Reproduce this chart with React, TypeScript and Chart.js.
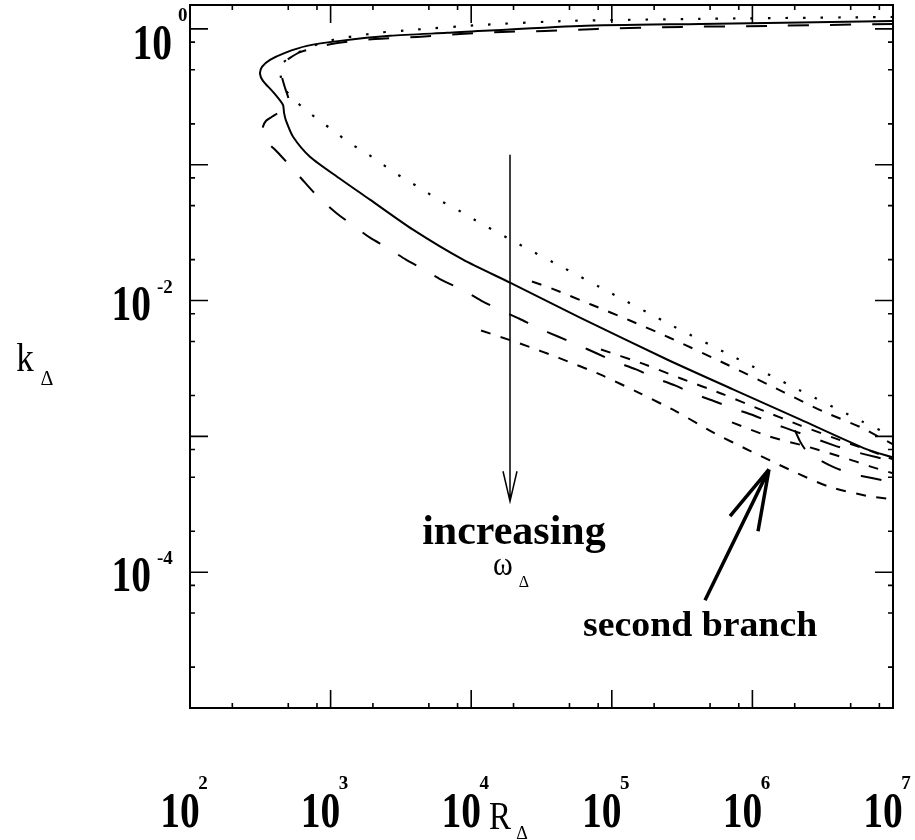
import React, { useEffect, useRef } from "react";
import { Chart, registerables } from "chart.js";

Chart.register(...registerables);

// ---- axis ticks (exponents of 10) ----
const xTickExponents = [2, 3, 4, 5, 6, 7];
const yTickExponents = [0, -1, -2, -3, -4];
const yLabelExponents = [0, -2, -4];
const minorMantissas = [2, 5, 8];

// ---- curves, stored as log10 values ----
// solid curve (upper + lower branch)
const solidLogR = [7.0, 6.339, 5.627, 4.774, 3.828, 3.422, 3.067, 2.832, 2.676, 2.569, 2.512, 2.498, 2.519, 2.59, 2.661, 2.669, 2.683, 2.733, 2.853, 3.067, 3.28, 3.586, 3.942, 4.276, 4.774, 5.393, 5.862, 6.339, 6.815, 7.0];
const solidLogK = [0.059, 0.048, 0.037, 0.022, -0.029, -0.051, -0.088, -0.125, -0.176, -0.228, -0.279, -0.331, -0.382, -0.463, -0.559, -0.618, -0.676, -0.794, -0.941, -1.103, -1.257, -1.478, -1.699, -1.868, -2.125, -2.434, -2.654, -2.875, -3.096, -3.154];

// dotted curve
const dottedLogR = [7.0, 5.627, 4.703, 4.063, 3.586, 3.33, 3.195, 3.081, 2.96, 2.839, 2.725, 2.661, 2.64, 2.647, 2.654, 2.733, 2.832, 2.932, 3.031, 3.131, 3.238, 3.344, 3.444, 3.55, 3.657, 3.764, 3.878, 3.984, 4.319, 4.653, 4.987, 5.428, 5.876, 6.324, 6.78, 7.0];
const dottedLogK = [0.088, 0.074, 0.059, 0.029, -0.007, -0.029, -0.051, -0.066, -0.096, -0.14, -0.199, -0.25, -0.294, -0.36, -0.412, -0.515, -0.603, -0.684, -0.757, -0.838, -0.904, -0.978, -1.051, -1.118, -1.184, -1.257, -1.316, -1.382, -1.574, -1.757, -1.941, -2.184, -2.419, -2.654, -2.89, -3.0];

// long-dashed curve
const longDashLogR = [7.0, 6.104, 5.499, 4.895, 4.525, 4.219, 3.92, 3.614, 3.316, 3.017, 2.789, 2.711, 2.661, 2.647, 2.669, 2.704, 2.647, 2.583, 2.541, 2.519, 2.519, 2.555, 2.619, 2.718, 2.818, 2.917, 3.038, 3.152, 3.28, 3.401, 3.536, 3.664, 3.799, 3.935, 4.07, 4.198, 4.34, 4.468, 4.617, 4.752, 4.895, 5.023, 5.172, 5.3, 5.449, 5.578, 5.734, 5.862, 6.011, 6.146, 6.303, 6.58, 6.716, 6.886, 7.0];
const longDashLogK = [0.037, 0.022, 0.015, 0.0, -0.015, -0.022, -0.037, -0.059, -0.074, -0.11, -0.169, -0.213, -0.257, -0.316, -0.412, -0.544, -0.603, -0.647, -0.676, -0.721, -0.765, -0.838, -0.904, -1.015, -1.132, -1.243, -1.353, -1.441, -1.537, -1.61, -1.699, -1.772, -1.853, -1.919, -2.0, -2.066, -2.132, -2.199, -2.265, -2.324, -2.39, -2.449, -2.507, -2.566, -2.625, -2.684, -2.743, -2.794, -2.846, -2.904, -2.963, -3.066, -3.11, -3.154, -3.184];

// long-dashed second piece
const longDash2LogR = [6.303, 6.339, 6.381, 6.445, 6.566, 6.694, 6.858, 7.0];
const longDash2LogK = [-2.956, -3.037, -3.103, -3.154, -3.221, -3.272, -3.309, -3.338];

// medium-dashed "second branch" curves
const branch1LogR = [4.432, 4.575, 4.852, 5.129, 5.407, 5.819, 6.225, 6.502, 6.772, 7.0];
const branch1LogK = [-1.86, -1.912, -2.029, -2.147, -2.272, -2.471, -2.676, -2.816, -2.934, -3.059];

const branch2LogR = [4.07, 4.347, 4.632, 4.916, 5.186, 5.457, 5.72, 5.99, 6.26, 6.538, 6.829, 7.0];
const branch2LogK = [-2.221, -2.316, -2.426, -2.544, -2.676, -2.816, -2.971, -3.11, -3.243, -3.368, -3.441, -3.463];

const branch3LogR = [4.923, 5.215, 5.492, 5.777, 6.054, 6.339, 6.609, 6.886, 7.0];
const branch3LogK = [-2.36, -2.463, -2.574, -2.684, -2.801, -2.919, -3.022, -3.125, -3.169];

const branch4LogR = [5.855, 6.118, 6.41, 6.687, 6.836, 7.0];
const branch4LogK = [-2.897, -3.0, -3.081, -3.169, -3.221, -3.272];

// annotation anchors (log10 R, log10 k)
const omegaArrow = { logR: 4.276, fromLogK: -0.926, toLogK: -3.478 };
const branchArrow = { tipR: 6.118, tipK: -3.243, tailR: 5.663, tailK: -4.206, barb1R: 5.841, barb1K: -3.588, barb2R: 6.04, barb2K: -3.699 };
const increasingText = { logR: 4.304, logK: -3.794 };
const omegaText = { logR: 4.226, logK: -4.022 };
const branchText = { logR: 5.628, logK: -4.47 };

function toPoints(lr: number[], lk: number[]) {
  return lr.map((v, i) => ({ x: Math.pow(10, v), y: Math.pow(10, lk[i]) }));
}

const SERIF = '"Liberation Serif", "Times New Roman", serif';

function drawText(ctx: CanvasRenderingContext2D, text: string, x: number, y: number, font: string, align: CanvasTextAlign, sy = 1, sx = 1) {
  ctx.save();
  ctx.translate(x, y);
  ctx.scale(sx, sy);
  ctx.font = font;
  ctx.textAlign = align;
  ctx.textBaseline = "alphabetic";
  ctx.fillText(text, 0, 0);
  ctx.restore();
}

const decorPlugin = {
  id: "decor",
  afterDraw(chart: any) {
    const ctx: CanvasRenderingContext2D = chart.ctx;
    const { left, right, top, bottom } = chart.chartArea;
    const xs = chart.scales.x;
    const ys = chart.scales.y;
    const X = (lr: number) => xs.getPixelForValue(Math.pow(10, lr));
    const Y = (lk: number) => ys.getPixelForValue(Math.pow(10, lk));
    ctx.save();
    ctx.strokeStyle = "#000";
    ctx.fillStyle = "#000";
    ctx.lineCap = "butt";

    // frame
    ctx.lineWidth = 2;
    ctx.strokeRect(left, top, right - left, bottom - top);

    // ticks
    ctx.lineWidth = 1.6;
    ctx.beginPath();
    for (const e of xTickExponents) {
      const px = xs.getPixelForValue(Math.pow(10, e));
      ctx.moveTo(px, bottom); ctx.lineTo(px, bottom - 18);
      ctx.moveTo(px, top); ctx.lineTo(px, top + 18);
      for (const m of minorMantissas) {
        const v = m * Math.pow(10, e);
        if (v >= xs.max) continue;
        const mx = xs.getPixelForValue(v);
        ctx.moveTo(mx, bottom); ctx.lineTo(mx, bottom - 5);
        ctx.moveTo(mx, top); ctx.lineTo(mx, top + 5);
      }
    }
    for (const e of yTickExponents) {
      const py = ys.getPixelForValue(Math.pow(10, e));
      ctx.moveTo(left, py); ctx.lineTo(left + 18, py);
      ctx.moveTo(right, py); ctx.lineTo(right - 18, py);
    }
    for (let e = -5; e <= 0; e++) {
      for (const m of minorMantissas) {
        const v = m * Math.pow(10, e);
        if (v >= ys.max || v <= ys.min) continue;
        const my = ys.getPixelForValue(v);
        ctx.moveTo(left, my); ctx.lineTo(left + 5, my);
        ctx.moveTo(right, my); ctx.lineTo(right - 5, my);
      }
    }
    ctx.stroke();

    // x tick labels
    const tenFont = `bold 38px ${SERIF}`;
    const expFont = `bold 19px ${SERIF}`;
    for (const e of xTickExponents) {
      const px = xs.getPixelForValue(Math.pow(10, e));
      drawText(ctx, "10", px - 10, 827, tenFont, "center", 1.35, 1.04);
      drawText(ctx, String(e), px + 13, 789, expFont, "center");
    }
    // y tick labels
    for (const e of yLabelExponents) {
      const py = ys.getPixelForValue(Math.pow(10, e));
      const s = String(e);
      const tenRight = 172 - (s.length - 1) * 21;
      const tenBase = e === 0 ? py + 30 : py + 19;
      drawText(ctx, "10", tenRight, tenBase, tenFont, "right", 1.35, 1.04);
      drawText(ctx, s, tenRight + 6, py - 8, expFont, "left");
    }

    // axis titles
    drawText(ctx, "R", 500, 829, `33px ${SERIF}`, "center", 1.2);
    drawText(ctx, "\u0394", 522, 839, `18px ${SERIF}`, "center");
    drawText(ctx, "k", 25, 371, `35px ${SERIF}`, "center", 1.12);
    drawText(ctx, "\u0394", 47, 385, `20px ${SERIF}`, "center");

    // increasing omega arrow
    const ax = X(omegaArrow.logR);
    const ay0 = Y(omegaArrow.fromLogK);
    const ay1 = Y(omegaArrow.toLogK);
    ctx.lineWidth = 1.5;
    ctx.beginPath();
    ctx.moveTo(ax, ay0); ctx.lineTo(ax, ay1);
    ctx.moveTo(ax - 7, ay1 - 30); ctx.lineTo(ax, ay1); ctx.lineTo(ax + 7, ay1 - 30);
    ctx.stroke();

    drawText(ctx, "increasing", X(increasingText.logR), Y(increasingText.logK), `bold 42px ${SERIF}`, "center");
    drawText(ctx, "\u03c9", X(omegaText.logR), Y(omegaText.logK), `30px ${SERIF}`, "center", 1.1);
    drawText(ctx, "\u0394", X(omegaText.logR) + 21, Y(omegaText.logK) + 12, `16px ${SERIF}`, "center");

    // second branch arrow
    const tx = X(branchArrow.tipR), ty = Y(branchArrow.tipK);
    ctx.lineWidth = 3.5;
    ctx.beginPath();
    ctx.moveTo(X(branchArrow.tailR), Y(branchArrow.tailK)); ctx.lineTo(tx, ty);
    ctx.moveTo(X(branchArrow.barb1R), Y(branchArrow.barb1K)); ctx.lineTo(tx, ty);
    ctx.moveTo(X(branchArrow.barb2R), Y(branchArrow.barb2K)); ctx.lineTo(tx, ty);
    ctx.stroke();
    drawText(ctx, "second branch", X(branchText.logR), Y(branchText.logK), `bold 35px ${SERIF}`, "center", 1, 1.08);

    ctx.restore();
  },
};

export default function App() {
  const canvasRef = useRef<HTMLCanvasElement | null>(null);

  useEffect(() => {
    const canvas = canvasRef.current;
    if (!canvas) return;
    const line = (data: any[], dash: number[], width = 2) => ({
      data,
      showLine: true,
      borderColor: "#000",
      backgroundColor: "#000",
      borderWidth: width,
      borderDash: dash,
      pointRadius: 0,
      pointHoverRadius: 0,
      tension: 0.25,
      fill: false,
    });
    const chart = new Chart(canvas, {
      type: "scatter",
      data: {
        datasets: [
          line(toPoints(solidLogR, solidLogK), [], 2),
          line(toPoints(dottedLogR, dottedLogK), [2.5, 15], 2.2),
          line(toPoints(longDashLogR, longDashLogK), [21, 21], 2),
          line(toPoints(longDash2LogR, longDash2LogK), [21, 21], 2),
          line(toPoints(branch1LogR, branch1LogK), [10, 10.5], 2),
          line(toPoints(branch2LogR, branch2LogK), [10, 10.5], 2),
          line(toPoints(branch3LogR, branch3LogK), [10, 10.5], 2),
          line(toPoints(branch4LogR, branch4LogK), [10, 10.5], 2),
        ],
      } as any,
      options: {
        animation: false,
        responsive: false,
        devicePixelRatio: 1,
        layout: { padding: { left: 190, right: 22, top: 5, bottom: 132 } },
        plugins: { legend: { display: false }, tooltip: { enabled: false } },
        events: [],
        scales: {
          x: { type: "logarithmic", min: 100, max: 1e7, display: false },
          y: { type: "logarithmic", min: 1e-5, max: 1.5, display: false },
        },
      } as any,
      plugins: [decorPlugin],
    });
    return () => chart.destroy();
  }, []);

  return (
    <div style={{ position: "absolute", left: 0, top: 0, width: 915, height: 840, background: "#fff" }}>
      <canvas ref={canvasRef} width={915} height={840} style={{ display: "block", width: 915, height: 840 }} />
    </div>
  );
}
